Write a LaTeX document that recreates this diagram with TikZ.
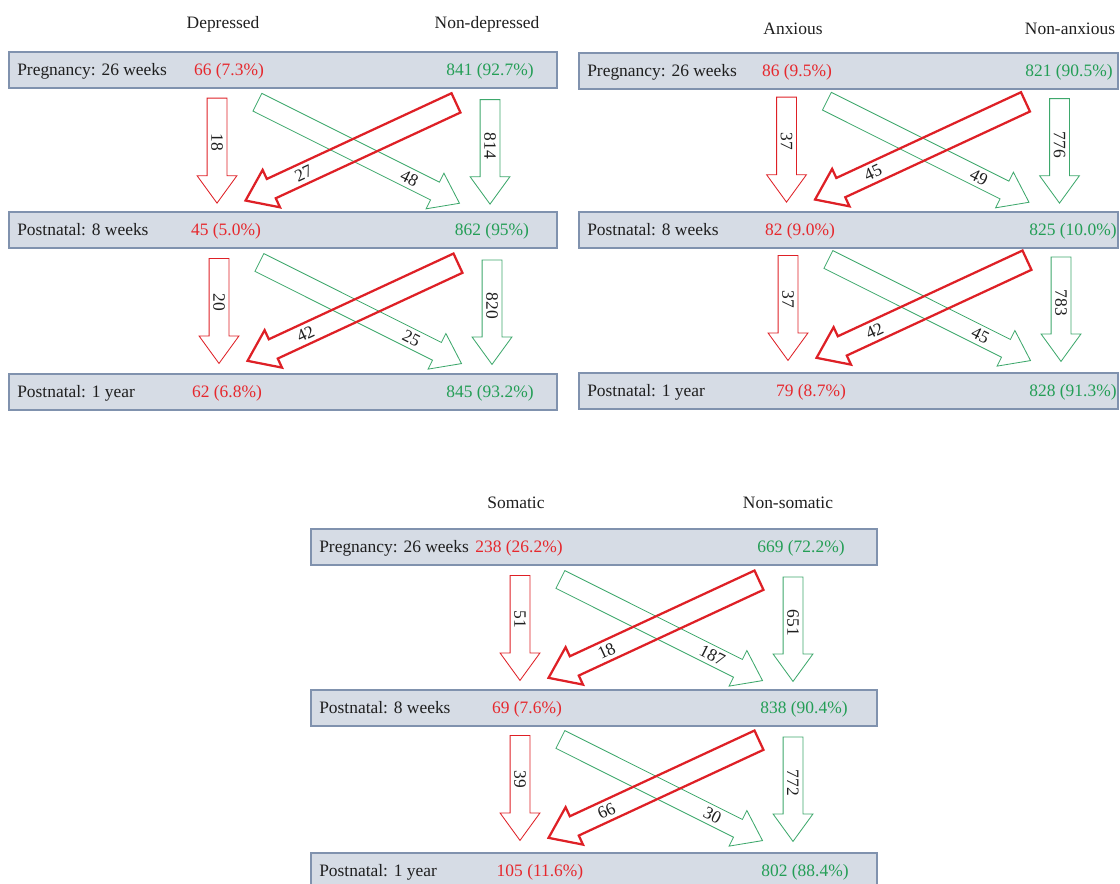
\documentclass[tikz,border=0pt]{standalone}
\usepackage{fontspec}
\setmainfont{Liberation Serif}
\usepackage{xcolor}
\usepackage{tikz}
\usetikzlibrary{shapes.arrows,calc,positioning}

\newlength{\px}
\setlength{\px}{0.025cm}

\definecolor{flowred}{RGB}{222,32,38}
\definecolor{flowgreen}{RGB}{62,168,108}
\definecolor{txtred}{RGB}{230,40,45}
\definecolor{txtgreen}{RGB}{36,158,86}
\definecolor{boxfill}{RGB}{214,220,229}
\definecolor{boxline}{RGB}{128,146,174}

\tikzset{
  rowbox/.style={draw=boxline, fill=boxfill, line width=0.9pt, minimum height=36\px, inner sep=0pt},
  rowtxt/.style={anchor=base west, inner sep=0pt},
  valred/.style={anchor=base, inner sep=0pt, text=txtred},
  valgreen/.style={anchor=base, inner sep=0pt, text=txtgreen},
  colhead/.style={anchor=base, inner sep=0pt},
  flow/.style={single arrow, anchor=tail, inner xsep=0pt, inner ysep=9.5\px,
    text height=0pt, text depth=0pt, single arrow head extend=10\px,
    single arrow tip angle=72},
  flowlab/.style={inner sep=0pt}
}

% four block arrows between two rows
\newcommand{\flowset}[6]{%
  \begin{scope}[shift={#2}]
    % straight down
    \node[flow, draw=flowred, line width=0.6pt, rotate=-90, minimum height=105\px] (#1rd) at (0,0) {};
    \node[flowlab, rotate=-90] (#1rdl) at ($(#1rd.tail)!0.42!(#1rd.tip)$) {#3};
    \node[flow, draw=flowgreen, line width=0.6pt, rotate=-90, minimum height=104.5\px] (#1gd) at (273,1.5) {};
    \node[flowlab, rotate=-90] (#1gdl) at ($(#1gd.tail)!0.44!(#1gd.tip)$) {#6};
    % crossing
    \node[flow, draw=flowgreen, line width=0.6pt, rotate=-26.57, minimum height=226\px] (#1gx) at (40,4.3) {};
    \node[flowlab, rotate=-26.57] (#1gxl) at ($(#1gx.tail)!0.75!(#1gx.tip)$) {#5};
    \node[flow, draw=flowred, line width=1.6pt, rotate=204.9, minimum height=232\px] (#1rx) at (240,4.7) {};
    \node[flowlab, rotate=24.9] (#1rxl) at ($(#1rx.tail)!0.72!(#1rx.tip)$) {#4};
  \end{scope}}

\begin{document}
\begin{tikzpicture}[x=\px, y=-\px, font=\fontsize{12.4}{15}\selectfont, text=black!88]
  \clip (0,0) rectangle (1120,883);

  % panel 1: depressed
  \node[colhead] (p1hd) at (223,28) {Depressed};
  \node[colhead] (p1hn) at (487,28) {Non-depressed};

  \node[rowbox, minimum width=548\px] (p1b1) at (283,70) {};
  \node[rowtxt] (p1t1) at (17,75.5) {Pregnancy: 26 weeks};
  \node[valred] (p1r1) at (229,75.5) {66 (7.3\%)};
  \node[valgreen] (p1g1) at (490,75.5) {841 (92.7\%)};

  \node[rowbox, minimum width=548\px] (p1b2) at (283,230) {};
  \node[rowtxt] (p1t2) at (17,235.5) {Postnatal: 8 weeks};
  \node[valred] (p1r2) at (226,235.5) {45 (5.0\%)};
  \node[valgreen] (p1g2) at (492,235.5) {862 (95\%)};

  \node[rowbox, minimum width=548\px] (p1b3) at (283,392) {};
  \node[rowtxt] (p1t3) at (17,397.5) {Postnatal: 1 year};
  \node[valred] (p1r3) at (227,397.5) {62 (6.8\%)};
  \node[valgreen] (p1g3) at (490,397.5) {845 (93.2\%)};

  \flowset{p1a}{(217,97.7)}{18}{27}{48}{814}
  \flowset{p1b}{(219,258)}{20}{42}{25}{820}

  % panel 2: anxious
  \node[colhead] (p2hd) at (793,34) {Anxious};
  \node[colhead] (p2hn) at (1070,34) {Non-anxious};

  \node[rowbox, minimum width=539\px] (p2b1) at (848.5,71) {};
  \node[rowtxt] (p2t1) at (587,76.5) {Pregnancy: 26 weeks};
  \node[valred] (p2r1) at (797,76.5) {86 (9.5\%)};
  \node[valgreen] (p2g1) at (1069,76.5) {821 (90.5\%)};

  \node[rowbox, minimum width=539\px] (p2b2) at (848.5,230) {};
  \node[rowtxt] (p2t2) at (587,235.5) {Postnatal: 8 weeks};
  \node[valred] (p2r2) at (800,235.5) {82 (9.0\%)};
  \node[valgreen] (p2g2) at (1073,235.5) {825 (10.0\%)};

  \node[rowbox, minimum width=539\px] (p2b3) at (848.5,391) {};
  \node[rowtxt] (p2t3) at (587,396.5) {Postnatal: 1 year};
  \node[valred] (p2r3) at (811,396.5) {79 (8.7\%)};
  \node[valgreen] (p2g3) at (1073,396.5) {828 (91.3\%)};

  \flowset{p2a}{(786.5,96.7)}{37}{45}{49}{776}
  \flowset{p2b}{(788,255)}{37}{42}{45}{783}

  % panel 3: somatic
  \node[colhead] (p3hd) at (516,508) {Somatic};
  \node[colhead] (p3hn) at (788,508) {Non-somatic};

  \node[rowbox, minimum width=566\px] (p3b1) at (594,547) {};
  \node[rowtxt] (p3t1) at (319,552.5) {Pregnancy: 26 weeks};
  \node[valred] (p3r1) at (519,552.5) {238 (26.2\%)};
  \node[valgreen] (p3g1) at (801,552.5) {669 (72.2\%)};

  \node[rowbox, minimum width=566\px] (p3b2) at (594,708) {};
  \node[rowtxt] (p3t2) at (319,713.5) {Postnatal: 8 weeks};
  \node[valred] (p3r2) at (527,713.5) {69 (7.6\%)};
  \node[valgreen] (p3g2) at (804,713.5) {838 (90.4\%)};

  \node[rowbox, minimum width=566\px] (p3b3) at (594,871) {};
  \node[rowtxt] (p3t3) at (319,876.5) {Postnatal: 1 year};
  \node[valred] (p3r3) at (540,876.5) {105 (11.6\%)};
  \node[valgreen] (p3g3) at (805,876.5) {802 (88.4\%)};

  \flowset{p3a}{(520,575)}{51}{18}{187}{651}
  \flowset{p3b}{(520,735)}{39}{66}{30}{772}
\end{tikzpicture}
\end{document}
